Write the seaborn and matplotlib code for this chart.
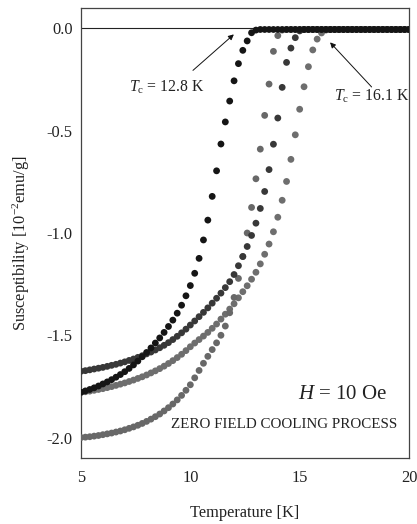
import numpy as np
import pandas as pd
import matplotlib
matplotlib.use("Agg")
import matplotlib.pyplot as plt
import seaborn as sns

# ---------------- data ----------------
temperature = [5.0, 5.2, 5.4, 5.6, 5.8, 6.0, 6.2, 6.4, 6.6, 6.8,
               7.0, 7.2, 7.4, 7.6, 7.8, 8.0, 8.2, 8.4, 8.6, 8.8,
               9.0, 9.2, 9.4, 9.6, 9.8, 10.0, 10.2, 10.4, 10.6, 10.8,
               11.0, 11.2, 11.4, 11.6, 11.8, 12.0, 12.2, 12.4, 12.6, 12.8,
               13.0, 13.2, 13.4, 13.6, 13.8, 14.0, 14.2, 14.4, 14.6, 14.8,
               15.0, 15.2, 15.4, 15.6, 15.8, 16.0, 16.2, 16.4, 16.6, 16.8,
               17.0, 17.2, 17.4, 17.6, 17.8, 18.0, 18.2, 18.4, 18.6, 18.8,
               19.0, 19.2, 19.4, 19.6, 19.8, 20.0]

# sample with Tc = 12.8 K (black)
chi_a = [-1.779, -1.772, -1.765, -1.757, -1.748, -1.738, -1.728, -1.717, -1.705, -1.692,
         -1.678, -1.662, -1.645, -1.626, -1.605, -1.584, -1.562, -1.538, -1.513, -1.486,
         -1.457, -1.426, -1.392, -1.353, -1.307, -1.257, -1.197, -1.124, -1.034, -0.937,
         -0.821, -0.696, -0.565, -0.457, -0.355, -0.256, -0.172, -0.107, -0.061, -0.021,
         -0.008, -0.005, -0.005, -0.005, -0.005, -0.005, -0.005, -0.005, -0.005, -0.005,
         -0.005, -0.005, -0.005, -0.005, -0.005, -0.005, -0.005, -0.005, -0.005, -0.005,
         -0.005, -0.005, -0.005, -0.005, -0.005, -0.005, -0.005, -0.005, -0.005, -0.005,
         -0.005, -0.005, -0.005, -0.005, -0.005, -0.005]

# sample starting at -1.68 (dark grey)
chi_b = [-1.676, -1.673, -1.669, -1.665, -1.661, -1.657, -1.652, -1.647, -1.642, -1.636,
         -1.630, -1.623, -1.616, -1.608, -1.600, -1.591, -1.582, -1.572, -1.561, -1.549,
         -1.536, -1.521, -1.505, -1.488, -1.470, -1.450, -1.430, -1.409, -1.388, -1.366,
         -1.343, -1.319, -1.294, -1.267, -1.238, -1.203, -1.160, -1.115, -1.066, -1.012,
         -0.952, -0.880, -0.797, -0.690, -0.566, -0.438, -0.288, -0.166, -0.096, -0.045,
         -0.012, -0.005, -0.005, -0.005, -0.005, -0.005, -0.005, -0.005, -0.005, -0.005,
         -0.005, -0.005, -0.005, -0.005, -0.005, -0.005, -0.005, -0.005, -0.005, -0.005,
         -0.005, -0.005, -0.005, -0.005, -0.005, -0.005]

# sample starting at -2.0 (grey)
chi_c = [-2.000, -1.998, -1.996, -1.993, -1.990, -1.986, -1.982, -1.978, -1.973, -1.968,
         -1.962, -1.955, -1.948, -1.940, -1.931, -1.921, -1.910, -1.898, -1.885, -1.870,
         -1.854, -1.836, -1.816, -1.794, -1.769, -1.742, -1.708, -1.672, -1.637, -1.603,
         -1.570, -1.537, -1.500, -1.455, -1.390, -1.315, -1.222, -1.115, -1.000, -0.875,
         -0.735, -0.590, -0.425, -0.272, -0.112, -0.035, -0.008, -0.005, -0.005, -0.005,
         -0.005, -0.005, -0.005, -0.005, -0.005, -0.005, -0.005, -0.005, -0.005, -0.005,
         -0.005, -0.005, -0.005, -0.005, -0.005, -0.005, -0.005, -0.005, -0.005, -0.005,
         -0.005, -0.005, -0.005, -0.005, -0.005, -0.005]

# sample with Tc = 16.1 K (grey)
chi_d = [-1.778, -1.776, -1.773, -1.769, -1.765, -1.761, -1.756, -1.751, -1.745, -1.739,
         -1.733, -1.726, -1.719, -1.711, -1.703, -1.694, -1.684, -1.674, -1.663, -1.651,
         -1.638, -1.624, -1.609, -1.593, -1.575, -1.556, -1.538, -1.521, -1.504, -1.486,
         -1.466, -1.445, -1.421, -1.397, -1.372, -1.346, -1.317, -1.287, -1.258, -1.226,
         -1.192, -1.151, -1.104, -1.054, -0.994, -0.923, -0.840, -0.748, -0.640, -0.520,
         -0.395, -0.285, -0.187, -0.105, -0.052, -0.022, -0.008, -0.005, -0.005, -0.005,
         -0.005, -0.005, -0.005, -0.005, -0.005, -0.005, -0.005, -0.005, -0.005, -0.005,
         -0.005, -0.005, -0.005, -0.005, -0.005, -0.005]

series_names = ["d", "c", "b", "a"]
series_values = {"a": chi_a, "b": chi_b, "c": chi_c, "d": chi_d}
series_colors = {"a": "#151515", "b": "#383838", "c": "#686868", "d": "#6e6e6e"}

x_ticks = [5, 10, 15, 20]
y_ticks = [0.0, -0.5, -1.0, -1.5, -2.0]

# ---------------- style ----------------
sns.set_style("white")
plt.rcParams["font.family"] = ["Liberation Serif", "DejaVu Serif"]
plt.rcParams["mathtext.fontset"] = "custom"
plt.rcParams["mathtext.rm"] = "Liberation Serif"
plt.rcParams["mathtext.it"] = "Liberation Serif:italic"
plt.rcParams["axes.unicode_minus"] = False

rows = []
for name in series_names:
    for t, v in zip(temperature, series_values[name]):
        rows.append({"T": t, "chi": v, "sample": name})
df = pd.DataFrame(rows)

fig = plt.figure(figsize=(4.17, 5.24), dpi=100)
ax = fig.add_axes([81 / 417, 1 - 458 / 524, (409 - 81) / 417, (458 - 8) / 524])

ax.axhline(0.0, color="#222222", lw=0.8, zorder=1)

sns.scatterplot(data=df, x="T", y="chi", hue="sample", hue_order=series_names,
                palette=series_colors, s=24, linewidth=0, legend=False,
                ax=ax, zorder=3)

ax.set_xlim(5, 20)
ax.set_ylim(-2.1, 0.1)
ax.set_xticks(x_ticks)
ax.set_xticklabels([str(v) for v in x_ticks])
ax.set_yticks(y_ticks)
ax.set_yticklabels([f"{v:.1f}" for v in y_ticks])

for sp in ax.spines.values():
    sp.set_color("#444444")
    sp.set_linewidth(0.9)

ax.tick_params(axis="both", direction="in", length=4, width=0.8, color="#444444",
               labelsize=11.8, labelcolor="#222222")
ax.tick_params(axis="x", pad=9)
ax.tick_params(axis="y", pad=6)

ax.set_xlabel("Temperature [K]", fontsize=11.8, color="#222222", labelpad=13)
ax.set_ylabel("Susceptibility [10$^{-2}$emu/g]", fontsize=11.8, color="#222222")
ax.yaxis.set_label_coords(-0.15, 0.478)

arrow_kw = dict(arrowstyle="-|>", color="#111111", lw=0.7, mutation_scale=8,
                shrinkA=0, shrinkB=0)
ax.annotate("", xy=(11.99, -0.029), xytext=(10.12, -0.205), arrowprops=arrow_kw)
ax.annotate("", xy=(16.39, -0.068), xytext=(18.29, -0.286), arrowprops=arrow_kw)

ax.text(8.9, -0.29, r"$T_{\mathrm{c}}$ = 12.8 K", fontsize=11.3, ha="center", va="center",
        color="#222222")
ax.text(18.3, -0.33, r"$T_{\mathrm{c}}$ = 16.1 K", fontsize=11.3, ha="center", va="center",
        color="#222222")
ax.text(16.95, -1.79, r"$H$ = 10 Oe", fontsize=15, ha="center", va="center",
        color="#222222")
ax.text(14.3, -1.937, "ZERO FIELD COOLING PROCESS", fontsize=10.8, ha="center",
        va="center", color="#222222")

fig.savefig("out.png", dpi=100)
